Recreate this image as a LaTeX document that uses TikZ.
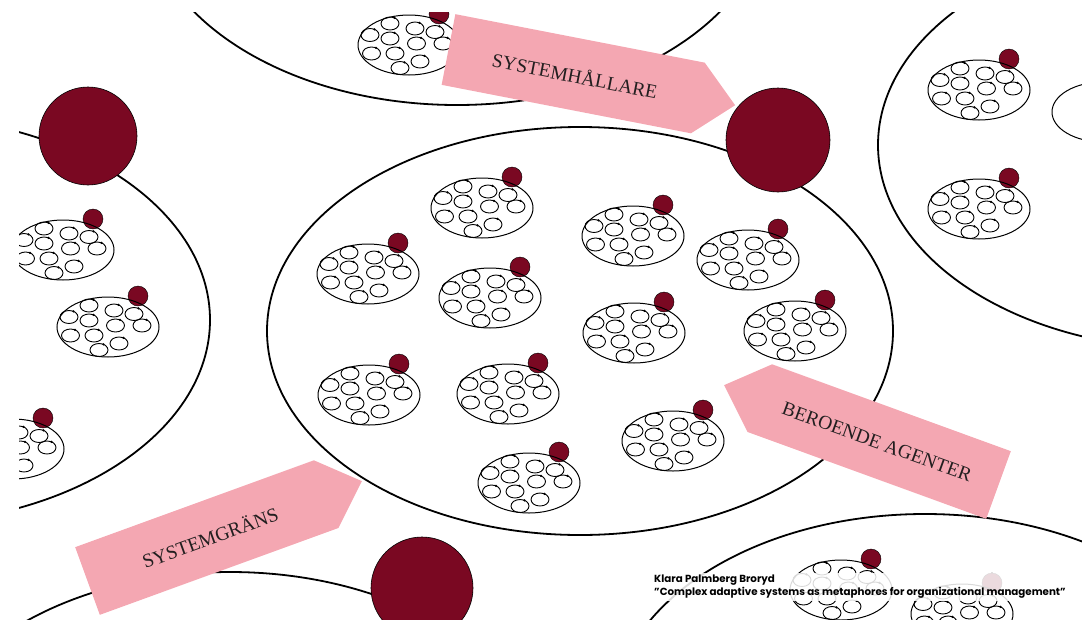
\documentclass[tikz,border=0pt]{standalone}
\usepackage{fontspec}
\setmainfont{Liberation Serif}
\newfontfamily\creditfont{Poppins}
\definecolor{dred}{RGB}{122,8,34}
\definecolor{apink}{RGB}{244,167,178}
\definecolor{inktext}{RGB}{35,31,32}
\begin{document}
\begin{tikzpicture}[x=1pt,y=-1pt,
  bigsys/.style={draw=black,line width=1.8pt},
  holder/.style={fill=dred,draw=black,line width=0.6pt},
  smallholder/.style={fill=dred,draw=black,line width=0.4pt},
  agentring/.style={draw=black,line width=0.9pt},
  grp/.style={draw=black,line width=1pt},
  banner/.style={fill=apink},
  bannertext/.style={text=inktext,font=\fontsize{19.5}{20}\selectfont},
  cluster/.pic={
    \fill[smallholder] (30,-31) circle (10);
    \draw[grp] (0,0) ellipse (51 and 30);
    \foreach \a/\b in {-19/-21.5, 6/-16.5, 26/-13, -39/-10, -19/-6.5, 7.5/-1.5, 34/-1.5, -37.5/8.5, -14/8.5, 11/16.5, -9/23}{
      \draw[agentring] (\a,\b) ellipse (9 and 6.5);
      \fill (\a+4.5,\b-5.6) circle (1.3);
    }
  }
]
\useasboundingbox (0,0) rectangle (1082,619);
\begin{scope}
\clip (19,12) rectangle (1082,619);
% system boundaries
\draw[bigsys] (580,331) ellipse (313 and 204);
\draw[bigsys] (457,-99) ellipse (313 and 204);
\draw[bigsys] (-103,320) ellipse (313 and 204);
\draw[bigsys] (1191,145) ellipse (313 and 204);
\draw[bigsys] (230,776) ellipse (313 and 204);
\draw[bigsys] (925,718) ellipse (313 and 204);
\draw[grp] (1103,112) ellipse (51 and 30);
% agent groups
\pic at (409,45) {cluster};
\pic at (63,250) {cluster};
\pic at (108,327) {cluster};
\pic at (13,449) {cluster};
\pic at (979,90) {cluster};
\pic at (979,209) {cluster};
\pic at (482,208) {cluster};
\pic at (368,274) {cluster};
\pic at (490,298) {cluster};
\pic at (633,236) {cluster};
\pic at (748,260) {cluster};
\pic at (634,333) {cluster};
\pic at (795,331) {cluster};
\pic at (369,395) {cluster};
\pic at (508,394) {cluster};
\pic at (673,441) {cluster};
\pic at (529,483) {cluster};
\pic at (841,590) {cluster};
\pic at (962,614) {cluster};
% system holders
\fill[holder] (88,136) circle (49);
\fill[holder] (778,140) circle (52);
\fill[holder] (422,588) circle (51);
% banners
\begin{scope}[shift={(448.5,49.5)},rotate=-11]
  \fill[banner] (0,-36) -- (254,-36) -- (292,0) -- (254,36) -- (0,36) -- cycle;
\end{scope}
\begin{scope}[shift={(998.5,485)},rotate=160]
  \fill[banner] (0,-36) -- (254,-36) -- (292,0) -- (254,36) -- (0,36) -- cycle;
\end{scope}
\begin{scope}[shift={(87.5,581)},rotate=20]
  \fill[banner] (0,-36) -- (254,-36) -- (292,0) -- (254,36) -- (0,36) -- cycle;
\end{scope}
\node[bannertext,rotate=-11] (t1) at (575,75) {SYSTEMHÅLLARE};
\node[bannertext,rotate=-20] (t2) at (877,442) {BEROENDE AGENTER};
\node[bannertext,rotate=20] (t3) at (210,537) {SYSTEMGRÄNS};
\node[anchor=north west,align=left,inner sep=2pt,fill=white,fill opacity=0.85,text opacity=1,
  font=\creditfont\bfseries\fontsize{10.3}{13}\selectfont] (credit) at (652,573)
  {Klara Palmberg Broryd\\”Complex adaptive systems as metaphores for organizational management”};
\end{scope}
\end{tikzpicture}
\end{document}
